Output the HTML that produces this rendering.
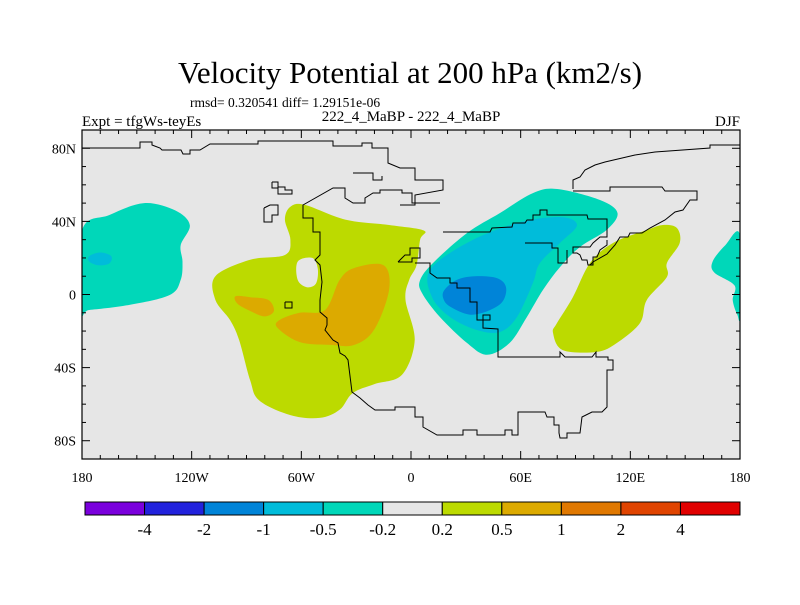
<!DOCTYPE html>
<html><head><meta charset="utf-8"><style>
html,body{margin:0;padding:0;background:#fff;}
svg text{font-family:"Liberation Serif",serif;fill:#000;}
</style></head><body>
<svg id="chart" width="800" height="600" viewBox="0 0 800 600" xmlns="http://www.w3.org/2000/svg">
<rect width="800" height="600" fill="#fff"/>
<text x="410" y="83" font-size="31" text-anchor="middle">Velocity Potential at 200 hPa (km2/s)</text>
<text x="190" y="107" font-size="13.5">rmsd= 0.320541 diff= 1.29151e-06</text>
<text x="82" y="126" font-size="15">Expt = tfgWs-teyEs</text>
<text x="411" y="121" font-size="15" text-anchor="middle">222_4_MaBP - 222_4_MaBP</text>
<text x="740" y="126" font-size="15" text-anchor="end">DJF</text>
<defs><clipPath id="plotclip"><rect x="82" y="130" width="658" height="329"/></clipPath></defs>
<rect x="82" y="130" width="658" height="329" fill="#e6e6e6"/>
<g id="fills" clip-path="url(#plotclip)"></g>
<g id="coast" clip-path="url(#plotclip)" fill="none" stroke="#000" stroke-width="1"></g>
<rect x="82" y="130" width="658" height="329" fill="none" stroke="#000" stroke-width="1.2"/>
<g id="ticks" stroke="#000" stroke-width="1"></g>
<g id="labels"></g>
<g id="cbar"></g>
</svg>
<script>
const levelLabels = ["-4","-2","-1","-0.5","-0.2","0.2","0.5","1","2","4"];
const levelColors = ["#7a00dc","#2222dc","#0084d8","#00bcda","#00d7b9","#e6e6e6","#bcda00","#dcaa00","#e07800","#e04400","#e00000"];
const lonTicks = [-180,-120,-60,0,60,120,180];
const lonTickLabels = ["180","120W","60W","0","60E","120E","180"];
const latTicks = [80,40,0,-40,-80];
const latTickLabels = ["80N","40N","0","40S","80S"];
// contour blobs: colour index + lon/lat outline
const blobLevels = [6,7,7,4,3,4,6,4,3,2,5,4];
const blobShapes = [
 [[-66,48],[-58,49],[-36,41],[-12,38],[7,35],[5,30],[3,16],[-1,8],[-3,-3],[2,-25],[-5,-44],[-20,-49],[-32,-54],[-39,-63],[-50,-67.5],[-66,-66],[-83,-58],[-88,-47],[-94,-25],[-99,-14],[-107,-3],[-107,10],[-88,19],[-69,21.6],[-66,30],[-69,41]],
 [[-96,-1],[-88,-1.5],[-78,-3],[-75,-9],[-80,-12],[-88,-9],[-95,-5]],
 [[-72,-14],[-61,-10],[-47,-8.5],[-39,8],[-31,14.5],[-15,16],[-12,2.5],[-20,-19],[-31,-27.6],[-44,-27.6],[-61,-26],[-73,-18.3]],
 [[-180,35],[-165,43.5],[-146,50],[-129,46],[-121,38],[-126,27],[-125,18],[-126,8],[-132,-0.3],[-154,-5.7],[-176,-8.5],[-180,-8.5]],
 [[-176,21],[-170,23],[-164,21],[-165,17],[-171,16],[-176,18]],
 [[180,32.5],[172,27],[165,18],[166,12],[177,5],[176,-3],[178.5,-11],[180,-11]],
 [[77.7,-21],[79.9,-15.6],[88.6,-1.4],[97.9,17.2],[110.5,28.2],[129,35.3],[137.8,38],[145.5,36.4],[147,28.2],[140,17.2],[140,9.6],[129,-3],[125.3,-15.6],[112.7,-26.5],[101.7,-31.4],[83,-30.4]],
 [[5,7.9],[12,17.2],[30.6,33.6],[48.7,44.6],[66.7,55.5],[80,57.7],[103.4,51.7],[113,44.6],[107,35.3],[92.4,26],[81.5,15],[72.2,2.5],[63.4,-12.3],[54,-26.5],[41.6,-33],[30.6,-26.5],[15.8,-12.3],[6,0.8]],
 [[10.4,13.4],[30.6,28.2],[58,39.1],[81.5,42.4],[90.8,38],[81.5,28.2],[70.5,17.2],[66.7,6.3],[58,-12.3],[48.7,-20.5],[36,-19.4],[21.3,-12.3],[11.5,-1.4]],
 [[18,2],[25,8],[35,10],[47,9],[52,4],[50,-4],[42,-9],[32,-11],[22,-7],[18,-3]],
 [[-62,18],[-54,20],[-51,14],[-52,6],[-57,4],[-62,8]],
 [[188,32.5],[180,27],[180,-11],[186,-11]]
];
// map outlines (pixel geometry of paleo-coastlines, not data)
const coastLines = [
 [[82,148],[140,148],[140,142],[152,142],[152,145],[160,148],[162,150],[181,150],[183,154],[190,154],[190,150],[200,150],[210,144],[258,144],[258,141],[333,141],[333,146],[362,146],[362,143],[372,143],[372,148],[388,148],[388,163],[400,168],[415,168],[415,180],[443,180],[443,190],[415,195],[415,205],[400,205]],
 [[573,189],[573,180],[580,177],[585,170],[595,165],[605,162],[635,155],[655,152],[710,148],[710,145],[740,145]],
 [[573,191],[610,191],[610,187],[662,187],[665,191],[697,191],[697,200],[690,200],[683,210],[675,212],[665,220],[650,228],[642,233],[630,233],[628,237],[620,237],[615,245],[607,254],[593,262],[590,265]],
 [[443,232],[490,232],[492,228],[512,227],[513,223],[525,223],[527,220],[533,220],[533,215],[540,215],[540,210],[547,210],[547,215],[587,215],[588,219],[607,219],[607,237],[600,237],[593,243],[590,247],[573,247],[573,253],[577,253],[580,255],[582,260],[587,260],[588,265],[593,265],[593,257],[597,257],[600,250],[607,245],[607,240]],
 [[525,243],[552,243],[552,248],[558,248],[558,263],[567,263],[567,250]],
 [[415,263],[430,263],[430,273],[437,278],[450,278],[450,283],[457,283],[457,288],[470,288],[470,302],[477,302],[477,320],[490,320],[490,315],[483,315],[483,328],[498,329],[498,357],[560,357],[560,352],[565,357],[592,357],[596,352],[596,357],[608,357],[608,360],[613,360],[613,370],[607,370],[607,407],[602,412],[592,412],[582,417],[580,433],[567,433],[567,438],[560,438],[559,433],[559,425],[554,425],[554,417],[547,417],[545,412],[518,412],[518,435],[512,435],[512,430],[505,430],[505,435],[477,435],[477,430],[463,430],[463,435],[437,435],[423,427],[423,417],[415,417],[415,407],[400,407],[395,407],[395,410],[375,410],[368,405],[360,398],[352,392],[348,360],[345,356],[340,353],[338,343],[333,340],[325,330],[327,325],[327,318],[320,312],[320,300],[322,282],[320,265],[315,260],[320,255],[320,232],[313,232],[313,218],[303,218],[303,205],[333,188],[345,188],[345,198],[353,203],[365,203],[365,198],[373,193],[380,193],[380,190],[402,190],[402,193],[412,193],[412,203],[440,203]],
 [[272,182],[278,182],[278,187],[285,187],[285,190],[292,190],[292,194],[278,194],[278,188],[272,188],[272,182]],
 [[264,208],[270,205],[278,205],[278,215],[272,215],[272,222],[264,222],[264,208]],
 [[398,262],[405,255],[410,255],[410,248],[420,248],[420,258],[412,258],[412,262],[398,262]],
 [[285,302],[292,302],[292,308],[285,308],[285,302]],
 [[353,173],[373,173],[373,180],[382,180],[382,176]]
];
const NS='http://www.w3.org/2000/svg';
const X0=82,X1=740,Y0=130,Y1=459;
function xScale(lon){return X0+(lon+180)/360*(X1-X0);}
function yScale(lat){return Y0+(90-lat)/180*(Y1-Y0);}
function smoothPath(pts){
 const n=pts.length;let d='M'+pts[0][0].toFixed(1)+','+pts[0][1].toFixed(1);
 for(let i=0;i<n;i++){
  const p0=pts[(i-1+n)%n],p1=pts[i],p2=pts[(i+1)%n],p3=pts[(i+2)%n];
  const c1=[p1[0]+(p2[0]-p0[0])/6,p1[1]+(p2[1]-p0[1])/6];
  const c2=[p2[0]-(p3[0]-p1[0])/6,p2[1]-(p3[1]-p1[1])/6];
  d+='C'+c1[0].toFixed(1)+','+c1[1].toFixed(1)+' '+c2[0].toFixed(1)+','+c2[1].toFixed(1)+' '+p2[0].toFixed(1)+','+p2[1].toFixed(1);
 }
 return d+'Z';
}
const fills=document.getElementById('fills');
blobShapes.forEach((shape,i)=>{
 const p=document.createElementNS(NS,'path');
 p.setAttribute('d',smoothPath(shape.map(q=>[xScale(q[0]),yScale(q[1])])));
 p.setAttribute('fill',levelColors[blobLevels[i]]);
 
 
 fills.appendChild(p);
});
const coast=document.getElementById('coast');
coastLines.forEach(line=>{
 const p=document.createElementNS(NS,'polyline');
 p.setAttribute('points',line.map(q=>q.join(',')).join(' '));
 
 
 coast.appendChild(p);
});
const ticks=document.getElementById('ticks'),labels=document.getElementById('labels');
function line(x1,y1,x2,y2){const l=document.createElementNS(NS,'line');l.setAttribute('x1',x1);l.setAttribute('y1',y1);l.setAttribute('x2',x2);l.setAttribute('y2',y2);
 
 
 ticks.appendChild(l);}
for(let lon=-180;lon<=180;lon+=10){const x=xScale(lon);const L=(lon%60===0)?8:4;line(x,Y1,x,Y1-L);line(x,Y0,x,Y0+L);}
for(let lat=-90;lat<=90;lat+=10){const y=yScale(lat);const L=(lat%40===0)?8:4;line(X0,y,X0+L,y);line(X1,y,X1-L,y);}
function text(x,y,s,anchor,size,name){const t=document.createElementNS(NS,'text');t.setAttribute('x',x);t.setAttribute('y',y);t.setAttribute('text-anchor',anchor);t.setAttribute('font-size',size);t.textContent=s;
 
 
 return t;}
lonTicks.forEach((v,i)=>labels.appendChild(text(xScale(v),482,lonTickLabels[i],'middle',14,'x-tick-label')));
latTicks.forEach((v,i)=>labels.appendChild(text(76,yScale(v)+5,latTickLabels[i],'end',14,'y-tick-label')));
const cb=document.getElementById('cbar');
const cbX0=85,cbX1=740,cbY=502,cbH=13,bw=(cbX1-cbX0)/levelColors.length;
levelColors.forEach((c,i)=>{const r=document.createElementNS(NS,'rect');r.setAttribute('x',cbX0+i*bw);r.setAttribute('y',cbY);r.setAttribute('width',bw);r.setAttribute('height',cbH);r.setAttribute('fill',c);r.setAttribute('stroke','#000');r.setAttribute('stroke-width','1');
 
 
 cb.appendChild(r);});
levelLabels.forEach((s,i)=>cb.appendChild(text(cbX0+(i+1)*bw,535,s,'middle',17,'colorbar-label')));
</script>
</body></html>
